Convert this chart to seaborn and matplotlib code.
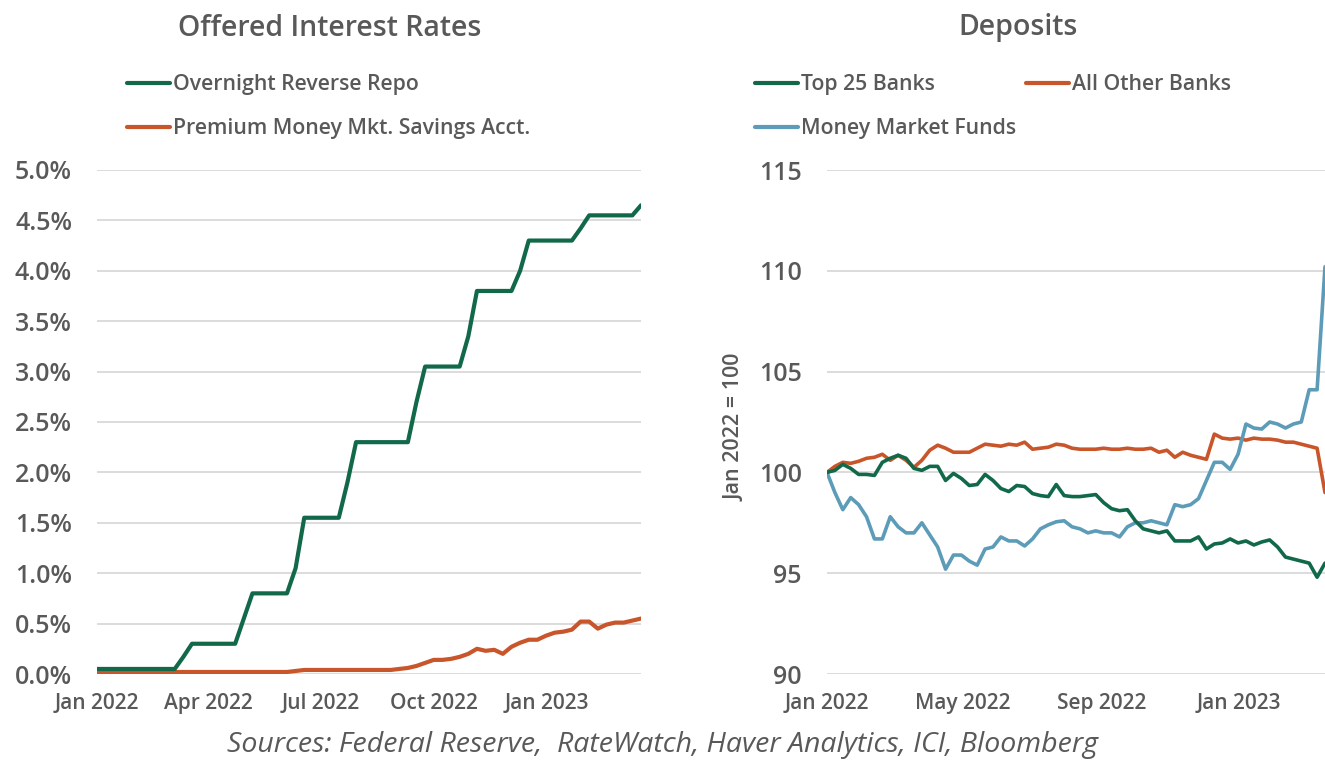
import numpy as np
import pandas as pd
import matplotlib
matplotlib.use("Agg")
import matplotlib.pyplot as plt
import matplotlib.dates as mdates
from matplotlib.lines import Line2D
import seaborn as sns

# ---------------- data (weekly, starting 1 Jan 2022) ----------------
start_date = "2022-01-01"
n_weeks = 64

on_rrp = [0.05, 0.05, 0.05, 0.05, 0.05, 0.05, 0.05, 0.05, 0.05, 0.05,
          0.17, 0.30, 0.30, 0.30, 0.30, 0.30, 0.30, 0.55, 0.80, 0.80,
          0.80, 0.80, 0.80, 1.05, 1.55, 1.55, 1.55, 1.55, 1.55, 1.90,
          2.30, 2.30, 2.30, 2.30, 2.30, 2.30, 2.30, 2.70, 3.05, 3.05,
          3.05, 3.05, 3.05, 3.35, 3.80, 3.80, 3.80, 3.80, 3.80, 4.00,
          4.30, 4.30, 4.30, 4.30, 4.30, 4.30, 4.42, 4.55, 4.55, 4.55,
          4.55, 4.55, 4.55, 4.65]

premium_mm = [0.02, 0.02, 0.02, 0.02, 0.02, 0.02, 0.02, 0.02, 0.02, 0.02,
              0.02, 0.02, 0.02, 0.02, 0.02, 0.02, 0.02, 0.02, 0.02, 0.02,
              0.02, 0.02, 0.02, 0.03, 0.04, 0.04, 0.04, 0.04, 0.04, 0.04,
              0.04, 0.04, 0.04, 0.04, 0.04, 0.05, 0.06, 0.08, 0.11, 0.14,
              0.14, 0.15, 0.17, 0.20, 0.25, 0.23, 0.24, 0.20, 0.27, 0.31,
              0.34, 0.34, 0.38, 0.41, 0.42, 0.44, 0.52, 0.52, 0.45, 0.49,
              0.51, 0.51, 0.53, 0.55]

top25 = [100.0, 100.1, 100.4, 100.2, 99.9, 99.9, 99.85, 100.5, 100.7, 100.85,
         100.7, 100.2, 100.1, 100.3, 100.3, 99.6, 99.95, 99.7, 99.35, 99.4,
         99.9, 99.6, 99.2, 99.05, 99.35, 99.3, 98.95, 98.85, 98.8, 99.4,
         98.85, 98.8, 98.8, 98.85, 98.9, 98.5, 98.2, 98.1, 98.15, 97.6,
         97.2, 97.1, 97.0, 97.1, 96.6, 96.6, 96.6, 96.8, 96.2, 96.45,
         96.5, 96.7, 96.5, 96.6, 96.4, 96.55, 96.65, 96.3, 95.8, 95.7,
         95.6, 95.5, 94.8, 95.5]

other_banks = [100.0, 100.3, 100.5, 100.45, 100.55, 100.7, 100.75, 100.9, 100.6, 100.85,
               100.6, 100.25, 100.6, 101.1, 101.35, 101.2, 101.0, 101.0, 101.0, 101.2,
               101.4, 101.35, 101.3, 101.4, 101.35, 101.5, 101.15, 101.2, 101.25, 101.4,
               101.35, 101.2, 101.15, 101.15, 101.15, 101.2, 101.15, 101.15, 101.2, 101.15,
               101.15, 101.2, 101.0, 101.1, 100.75, 101.0, 100.85, 100.75, 100.65, 101.9,
               101.7, 101.65, 101.7, 101.6, 101.7, 101.65, 101.65, 101.6, 101.5, 101.5,
               101.4, 101.3, 101.2, 99.0]

mmf = [100.0, 99.0, 98.15, 98.75, 98.4, 97.8, 96.7, 96.7, 97.8, 97.3,
       97.0, 97.0, 97.5, 96.9, 96.3, 95.2, 95.9, 95.9, 95.6, 95.4,
       96.2, 96.3, 96.8, 96.6, 96.6, 96.35, 96.7, 97.2, 97.4, 97.55,
       97.6, 97.3, 97.2, 97.0, 97.1, 97.0, 97.0, 96.8, 97.3, 97.5,
       97.5, 97.6, 97.5, 97.4, 98.4, 98.3, 98.4, 98.7, 99.6, 100.5,
       100.5, 100.15, 100.9, 102.4, 102.2, 102.15, 102.5, 102.4, 102.2, 102.4,
       102.5, 104.1, 104.1, 110.2]

rate_names = ["Overnight Reverse Repo", "Premium Money Mkt. Savings Acct."]
dep_names = ["Top 25 Banks", "All Other Banks", "Money Market Funds"]
left_ticks = ["2022-01-01", "2022-04-01", "2022-07-01", "2022-10-01", "2023-01-01"]
right_ticks = ["2022-01-01", "2022-05-01", "2022-09-01", "2023-01-01"]
source_text = "Sources: Federal Reserve,  RateWatch, Haver Analytics, ICI, Bloomberg"

dates = pd.date_range(start_date, periods=n_weeks, freq="7D")

rates_df = pd.concat([
    pd.DataFrame({"date": dates, "value": on_rrp, "series": rate_names[0]}),
    pd.DataFrame({"date": dates, "value": premium_mm, "series": rate_names[1]}),
])
dep_df = pd.concat([
    pd.DataFrame({"date": dates, "value": top25, "series": dep_names[0]}),
    pd.DataFrame({"date": dates, "value": other_banks, "series": dep_names[1]}),
    pd.DataFrame({"date": dates, "value": mmf, "series": dep_names[2]}),
])

# ---------------- style ----------------
sns.set_theme(style="white")
plt.rcParams["font.family"] = ["Open Sans", "DejaVu Sans"]

GREEN = "#12694a"
ORANGE = "#c9562a"
BLUE = "#5d9cb8"
TXT = "#595959"
GRID = "#d9d9d9"

fig = plt.figure(figsize=(13.25, 7.63), dpi=100)
fig.patch.set_facecolor("white")

axL = fig.add_axes([97 / 1325, 1 - 674 / 763, (641 - 97) / 1325, (674 - 170) / 763])
axR = fig.add_axes([827 / 1325, 1 - 674 / 763, (1325 - 827) / 1325, (674 - 170) / 763])

sns.lineplot(data=rates_df, x="date", y="value", hue="series",
             palette={rate_names[0]: GREEN, rate_names[1]: ORANGE},
             hue_order=[rate_names[1], rate_names[0]],
             linewidth=3.0, ax=axL, legend=False)
sns.lineplot(data=dep_df, x="date", y="value", hue="series",
             palette={dep_names[0]: GREEN, dep_names[1]: ORANGE, dep_names[2]: BLUE},
             hue_order=[dep_names[1], dep_names[2], dep_names[0]],
             linewidth=2.6, ax=axR, legend=False)

for ax in (axL, axR):
    ax.set_xlim(dates[0], dates[-1])
    ax.set_xlabel("")
    ax.set_ylabel("")
    for s in ax.spines.values():
        s.set_visible(False)
    ax.grid(axis="y", color=GRID, linewidth=1.3)
    ax.grid(axis="x", visible=False)
    ax.set_axisbelow(True)
    ax.tick_params(axis="both", length=0, colors=TXT)
    ax.set_facecolor("white")

axL.set_ylim(0, 5.0)
axL.set_yticks(np.arange(0, 5.01, 0.5))
axL.yaxis.set_major_formatter(matplotlib.ticker.FuncFormatter(lambda v, p: f"{v:.1f}%"))
axL.set_xticks(pd.to_datetime(left_ticks))
axL.xaxis.set_major_formatter(mdates.DateFormatter("%b %Y"))

axR.set_ylim(90, 115)
axR.set_yticks(np.arange(90, 116, 5))
axR.set_xticks(pd.to_datetime(right_ticks))
axR.xaxis.set_major_formatter(mdates.DateFormatter("%b %Y"))

for ax in (axL, axR):
    ax.tick_params(axis="y", pad=18, labelsize=18)
    ax.tick_params(axis="x", pad=14, labelsize=15)
    for lab in ax.get_xticklabels() + ax.get_yticklabels():
        lab.set_fontweight("semibold")
        lab.set_color(TXT)

axR.set_ylabel("Jan 2022 = 100", fontsize=15.5, fontweight="semibold", color=TXT)
axR.yaxis.set_label_coords(-0.163, 0.49)

# titles
fig.text(330 / 1325, 1 - 28 / 763, "Offered Interest Rates", ha="center", va="center",
         fontsize=20.5, fontweight="semibold", color=TXT)
fig.text(1018 / 1325, 1 - 28 / 763, "Deposits", ha="center", va="center",
         fontsize=20.5, fontweight="semibold", color=TXT)

# legends
lk = dict(frameon=False, fontsize=15.3, handlelength=2.0, handletextpad=0.15,
          labelspacing=1.1, borderaxespad=0, borderpad=0)
hL = [Line2D([], [], color=GREEN, lw=3), Line2D([], [], color=ORANGE, lw=3)]
legL = fig.legend(hL, rate_names, loc="upper left",
                  bbox_to_anchor=(127 / 1325, 1 - 74 / 763), **lk)
# column-major filling: first column Top 25 / MMF, second column All Other Banks
hR = [Line2D([], [], color=GREEN, lw=3), Line2D([], [], color=BLUE, lw=3),
      Line2D([], [], color=ORANGE, lw=3)]
legR = fig.legend(hR, [dep_names[0], dep_names[2], dep_names[1]], loc="upper left",
                  ncol=2, columnspacing=0.5,
                  bbox_to_anchor=(755 / 1325, 1 - 74 / 763), **lk)
for leg in (legL, legR):
    for t in leg.get_texts():
        t.set_color(TXT)
        t.set_fontweight("semibold")

fig.text(662 / 1325, 1 - 745 / 763, source_text,
         ha="center", va="center", fontsize=20.5, style="italic", color=TXT)

fig.savefig("out.png", dpi=100, facecolor="white")
